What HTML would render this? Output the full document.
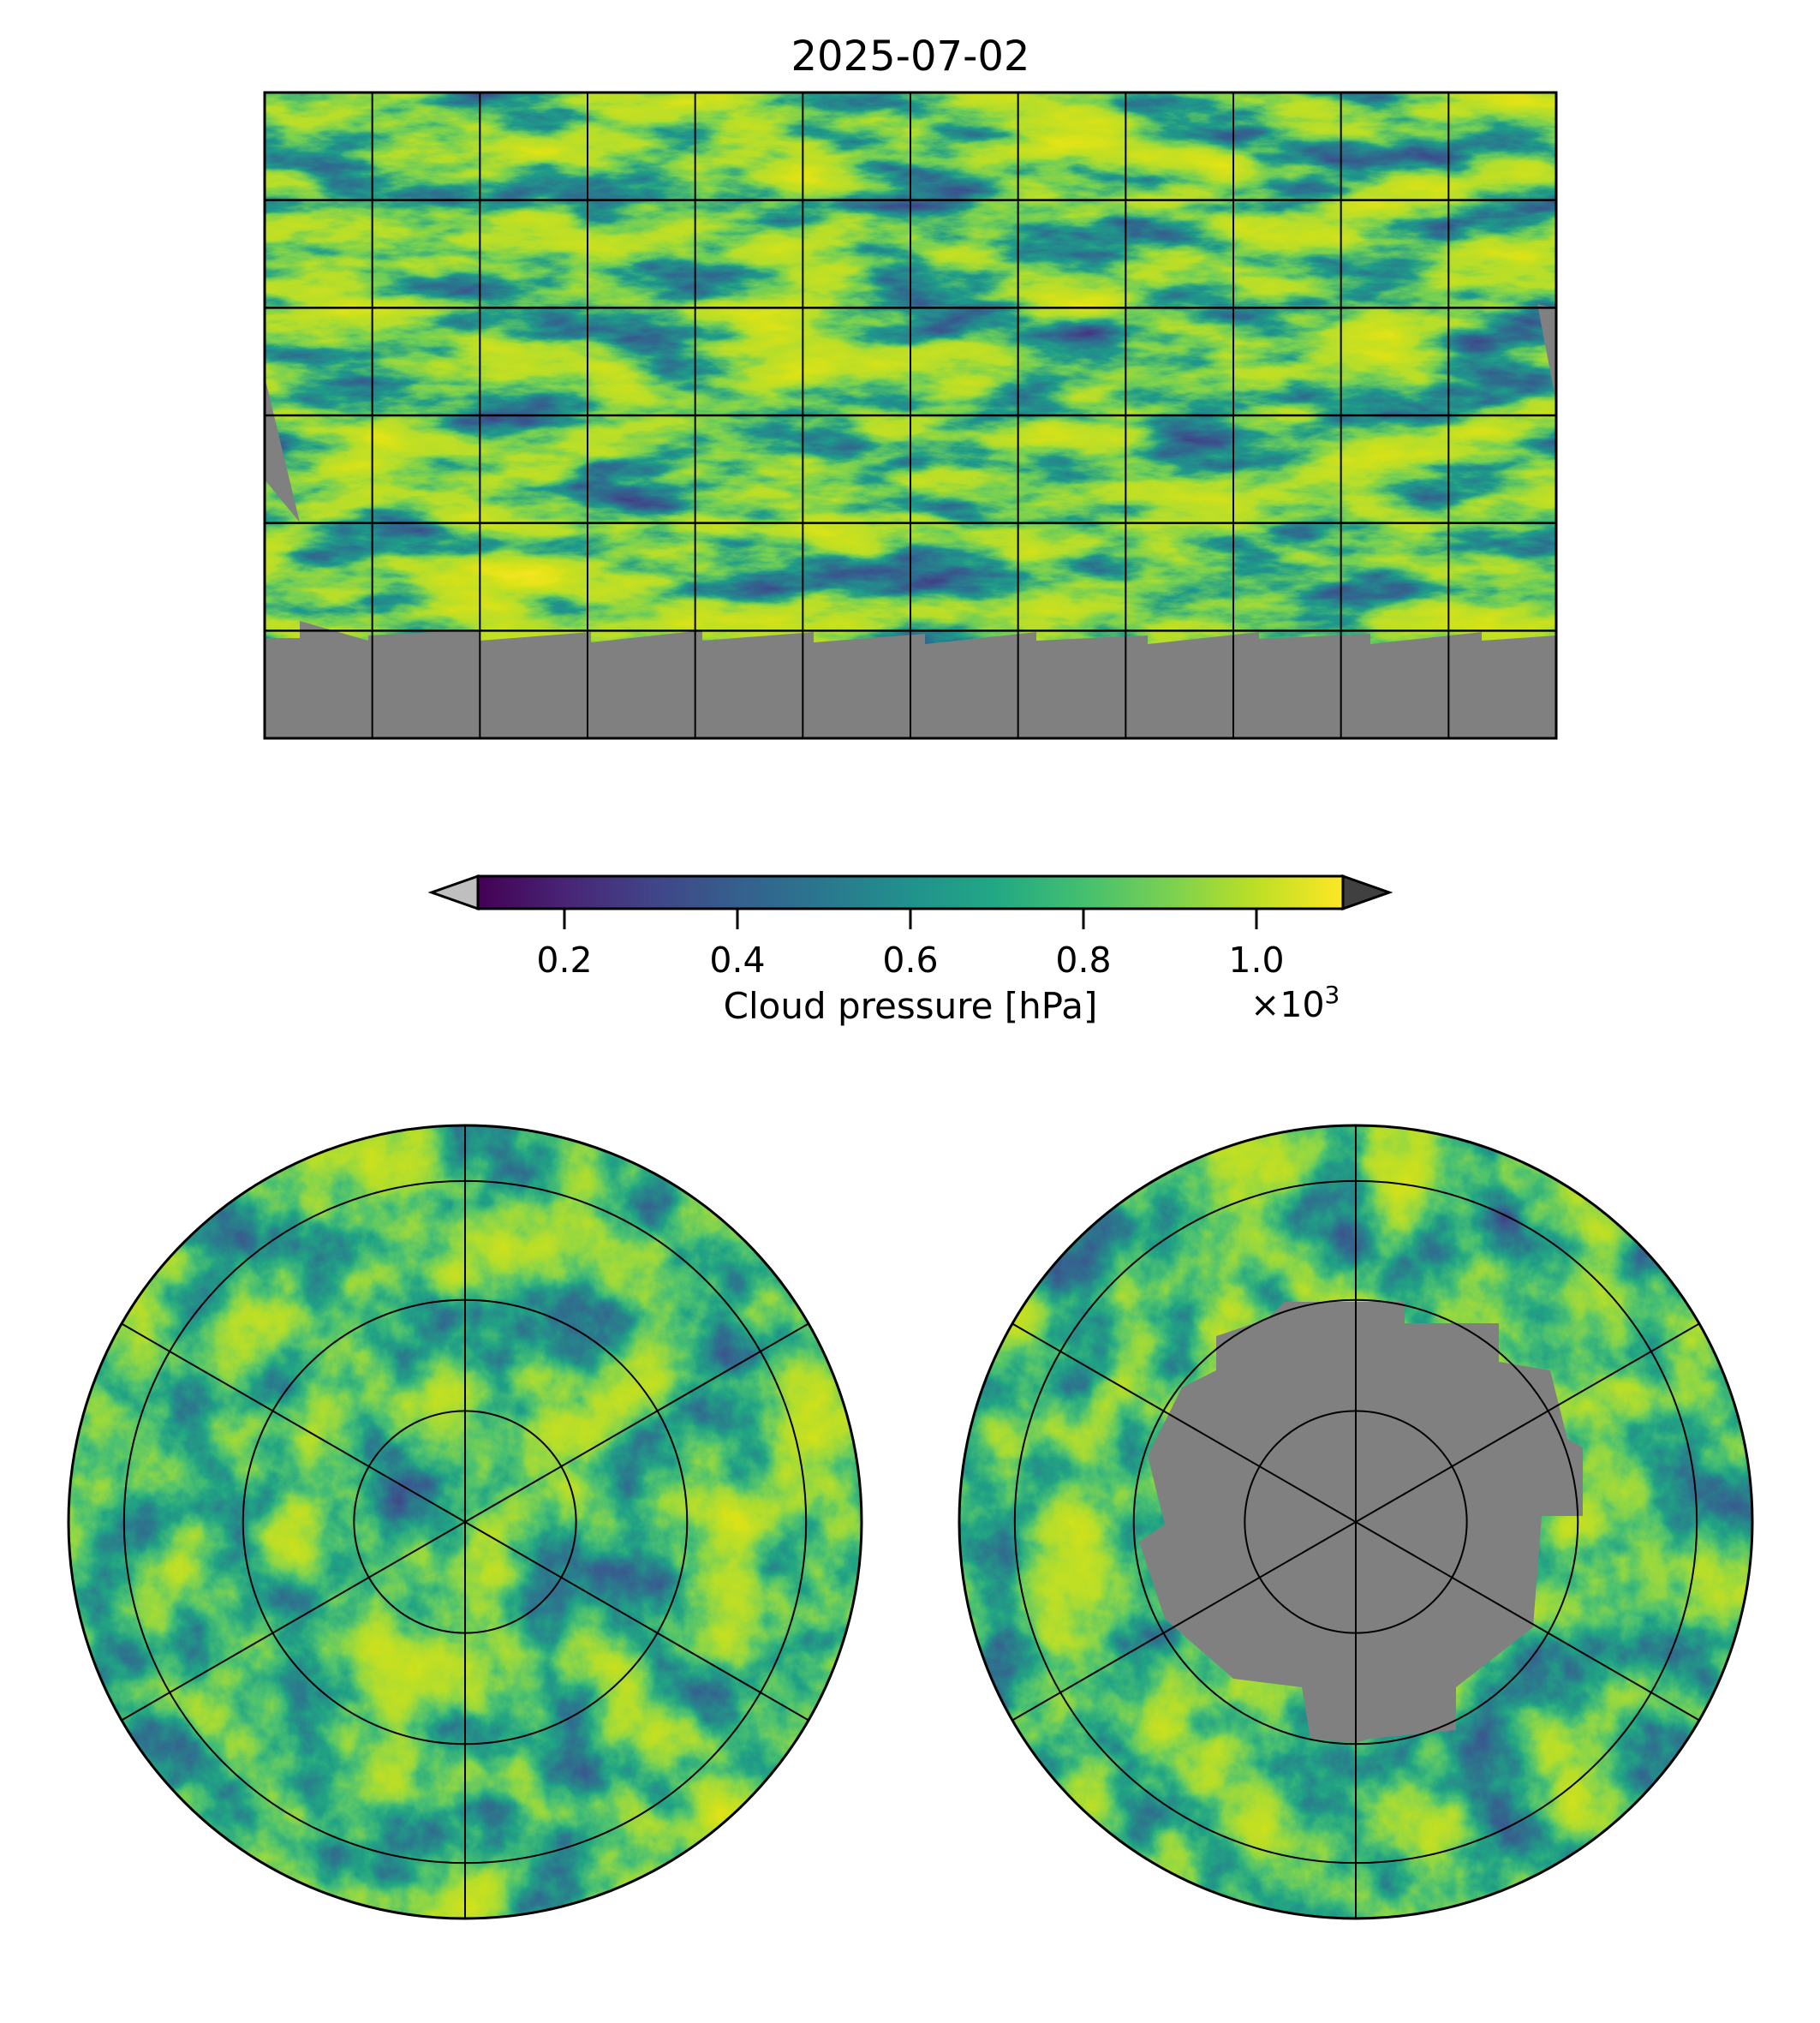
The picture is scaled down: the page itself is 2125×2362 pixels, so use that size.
<!DOCTYPE html>
<html><head><meta charset="utf-8">
<style>
html,body{margin:0;padding:0;background:#fff;}
svg{display:block;}
text{font-family:"DejaVu Sans","Liberation Sans",sans-serif;fill:#000;}
</style></head>
<body>
<svg id="fig" width="2125" height="2362" viewBox="0 0 2125 2362" xmlns="http://www.w3.org/2000/svg">
<defs>
  <filter id="cloudA" x="0" y="0" width="100%" height="100%" color-interpolation-filters="sRGB">
    <feTurbulence type="fractalNoise" baseFrequency="0.006 0.02" numOctaves="6" seed="7"/>
    <feColorMatrix type="matrix" values="1 0 0 0 0  1 0 0 0 0  1 0 0 0 0  0 0 0 0 1"/>
    <feComponentTransfer>
      <feFuncR type="table" tableValues="0.28 0.28 0.23 0.17 0.12 0.44 0.71 0.78 0.87 0.94 0.99"/>
      <feFuncG type="table" tableValues="0.14 0.18 0.32 0.45 0.61 0.81 0.87 0.88 0.89 0.90 0.91"/>
      <feFuncB type="table" tableValues="0.46 0.48 0.55 0.56 0.54 0.34 0.17 0.13 0.09 0.12 0.15"/>
    </feComponentTransfer>
  </filter>
  <filter id="cloudB" x="0" y="0" width="100%" height="100%" color-interpolation-filters="sRGB">
    <feTurbulence type="fractalNoise" baseFrequency="0.01 0.01" numOctaves="6" seed="3"/>
    <feColorMatrix type="matrix" values="1 0 0 0 0  1 0 0 0 0  1 0 0 0 0  0 0 0 0 1"/>
    <feComponentTransfer>
      <feFuncR type="table" tableValues="0.28 0.26 0.21 0.16 0.13 0.30 0.55 0.71 0.78 0.87 0.94"/>
      <feFuncG type="table" tableValues="0.16 0.26 0.38 0.50 0.64 0.76 0.84 0.87 0.88 0.89 0.90"/>
      <feFuncB type="table" tableValues="0.47 0.52 0.56 0.55 0.52 0.44 0.28 0.17 0.13 0.09 0.12"/>
    </feComponentTransfer>
  </filter>
  <clipPath id="clipL"><circle cx="543" cy="1777" r="463"/></clipPath>
  <clipPath id="clipR"><circle cx="1583" cy="1777" r="463"/></clipPath>
  <linearGradient id="viridis" x1="0" x2="1" y1="0" y2="0">
    <stop offset="0" stop-color="#440154"/><stop offset="0.1" stop-color="#482475"/>
    <stop offset="0.2" stop-color="#414487"/><stop offset="0.3" stop-color="#355f8d"/>
    <stop offset="0.4" stop-color="#2a788e"/><stop offset="0.5" stop-color="#21918c"/>
    <stop offset="0.6" stop-color="#22a884"/><stop offset="0.7" stop-color="#44bf70"/>
    <stop offset="0.8" stop-color="#7ad151"/><stop offset="0.9" stop-color="#bddf26"/>
    <stop offset="1" stop-color="#fde725"/>
  </linearGradient>
</defs>

<text x="1063" y="82" font-size="48" text-anchor="middle">2025-07-02</text>

<g id="mapG">
  <rect x="309" y="108" width="1508" height="754" filter="url(#cloudA)"/>
  <polygon fill="#808080" points="309,862 309,745 350,745 350,725 430,748 430,742 560,735 560,748 690,738 690,750 820,736 820,748 950,738 950,750 1080,740 1080,752 1210,738 1210,748 1340,742 1340,752 1470,738 1470,746 1600,740 1600,752 1730,738 1730,748 1817,742 1817,862"/>
  <polygon fill="#808080" points="309,440 309,560 350,610"/>
  <polygon fill="#808080" points="1817,360 1817,470 1795,355"/>
  <g id="mapGrid"></g>
  <rect x="309" y="108" width="1508" height="754" fill="none" stroke="#000" stroke-width="3"/>
</g>

<g id="cbar"></g>

<g>
  <g clip-path="url(#clipL)"><rect x="80" y="1314" width="926" height="926" filter="url(#cloudB)"/></g>
  <g id="gridL"></g>
  <circle cx="543" cy="1777" r="463" fill="none" stroke="#000" stroke-width="3"/>
</g>
<g>
  <g clip-path="url(#clipR)"><rect x="1120" y="1314" width="926" height="926" filter="url(#cloudB)"/></g>
  <polygon fill="#808080" points="1583,1520 1640,1520 1640,1545 1750,1545 1750,1590 1810,1600 1830,1680 1848,1690 1848,1770 1800,1770 1790,1900 1700,1970 1700,2020 1600,2030 1583,2035 1530,2030 1520,1970 1440,1960 1360,1890 1330,1800 1360,1780 1340,1700 1380,1620 1420,1600 1420,1560 1480,1540 1500,1520"/>
  <g id="gridR"></g>
  <circle cx="1583" cy="1777" r="463" fill="none" stroke="#000" stroke-width="3"/>
</g>
</svg>
<script>
// ---- data ----
const lonLines = [-150,-120,-90,-60,-30,0,30,60,90,120,150];
const latLines = [60,30,0,-30,-60];
const cbarTicks = [0.2,0.4,0.6,0.8,1.0];
const cbarTickLabels = ["0.2","0.4","0.6","0.8","1.0"];
const cbarRange = [0.1,1.1];
const polarRings = [0.28,0.56,0.86];   // fraction of radius
const polarSpokes = [90,30,-30];       // degrees

const NS="http://www.w3.org/2000/svg";
function mk(tag,attrs,parent){const e=document.createElementNS(NS,tag);for(const k in attrs)e.setAttribute(k,attrs[k]);parent.appendChild(e);return e;}

const mx0=309,mx1=1817,my0=108,my1=862;
const xLon=l=>mx0+(l+180)/360*(mx1-mx0);
const yLat=l=>my0+(90-l)/180*(my1-my0);
const mg=document.getElementById('mapGrid');
lonLines.forEach(l=>{
  const e=mk('line',{x1:xLon(l),x2:xLon(l),y1:my0,y2:my1,stroke:'#000','stroke-width':2},mg);
  
  
});
latLines.forEach(l=>{
  const e=mk('line',{x1:mx0,x2:mx1,y1:yLat(l),y2:yLat(l),stroke:'#000','stroke-width':2.5},mg);
  
  
});

const cb=document.getElementById('cbar');
const cx0=558,cx1=1568,cy0=1023,cy1=1061;
const xC=v=>cx0+(v-cbarRange[0])/(cbarRange[1]-cbarRange[0])*(cx1-cx0);
let e;
e=mk('polygon',{points:`${cx0},${cy0} 504,${(cy0+cy1)/2} ${cx0},${cy1}`,fill:'#bfbfbf',stroke:'#000','stroke-width':3},cb);


e=mk('polygon',{points:`${cx1},${cy0} 1622,${(cy0+cy1)/2} ${cx1},${cy1}`,fill:'#404040',stroke:'#000','stroke-width':3},cb);


e=mk('rect',{x:cx0,y:cy0,width:cx1-cx0,height:cy1-cy0,fill:'url(#viridis)',stroke:'#000','stroke-width':3},cb);


cbarTicks.forEach((v,i)=>{
  const t=mk('line',{x1:xC(v),x2:xC(v),y1:cy1,y2:cy1+24,stroke:'#000','stroke-width':3},cb);
  
  
  const lb=mk('text',{x:xC(v),y:1135,'font-size':41,'text-anchor':'middle'},cb);
  lb.textContent=cbarTickLabels[i];
  
  
});
e=mk('text',{x:1063,y:1189,'font-size':42,'text-anchor':'middle'},cb);
e.textContent='Cloud pressure [hPa]';


e=mk('text',{x:1460,y:1187,'font-size':41},cb);
e.innerHTML='×10<tspan font-size="28" dy="-16">3</tspan>';



function polar(id,cx,cy,R){
  const g=document.getElementById(id);
  polarRings.forEach(f=>{
    const c=mk('circle',{cx:cx,cy:cy,r:f*R,fill:'none',stroke:'#000','stroke-width':2},g);
    
    
  });
  polarSpokes.forEach(a=>{
    const r=a*Math.PI/180,dx=Math.cos(r)*R,dy=Math.sin(r)*R;
    const l=mk('line',{x1:cx-dx,y1:cy-dy,x2:cx+dx,y2:cy+dy,stroke:'#000','stroke-width':2},g);
    
    
  });
}
polar('gridL',543,1777,463);
polar('gridR',1583,1777,463);
</script>
</body></html>
